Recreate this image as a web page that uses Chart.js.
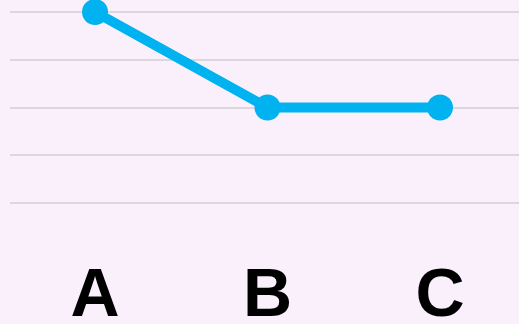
<!DOCTYPE html>
<html>
<head>
<meta charset="utf-8">
<script src="https://cdn.jsdelivr.net/npm/chart.js@4.4.1/dist/chart.umd.min.js"></script>
<style>
  html, body { margin: 0; padding: 0; background: #f9f0fb; overflow: hidden; }
  canvas { display: block; }
</style>
</head>
<body>
<canvas id="chart-line" width="519" height="324"></canvas>
<script>
// data
const categories = ['A', 'B', 'C'];
const values = [4, 2, 2];
const yTicks = [0, 1, 2, 3, 4];

const ctx = document.getElementById('chart-line');
new Chart(ctx.getContext('2d'), {
    type: 'line',
    data: {
        datasets: [{
            data: values.map((v, i) => ({ x: i, y: v })),
            borderColor: '#00b2ef',
            backgroundColor: '#00b2ef',
            borderWidth: 10,
            pointRadius: 13,
            pointBorderWidth: 0,
            pointBackgroundColor: '#00b2ef',
            tension: 0,
            clip: false
        }]
    },
    options: {
        responsive: false,
        animation: false,
        layout: { autoPadding: false, padding: { left: 10, right: 0, top: 12, bottom: 0 } },
        plugins: { legend: { display: false }, tooltip: { enabled: false } },
        scales: {
            x: {
                type: 'linear',
                min: -0.493,
                max: 2.458,
                grid: { display: false },
                border: { display: false },
                afterFit: function(s) { s.height = 121; s.paddingLeft = 0; s.paddingRight = 0; },
                ticks: {
                    stepSize: 1,
                    includeBounds: false,
                    autoSkip: false,
                    maxRotation: 0,
                    padding: 45,
                    color: '#000',
                    font: { family: 'Liberation Sans', size: 68, weight: 'bold' },
                    callback: function(v) { return categories[v] !== undefined && Number.isInteger(v) ? categories[v] : ''; }
                }
            },
            y: {
                min: yTicks[0],
                max: yTicks[yTicks.length - 1],
                afterFit: function(s) { s.width = 0; },
                grid: { color: '#dcd6dd', lineWidth: 2, drawTicks: false },
                border: { display: false },
                ticks: { display: false, stepSize: 1 }
            }
        }
    }
});
</script>
</body>
</html>
